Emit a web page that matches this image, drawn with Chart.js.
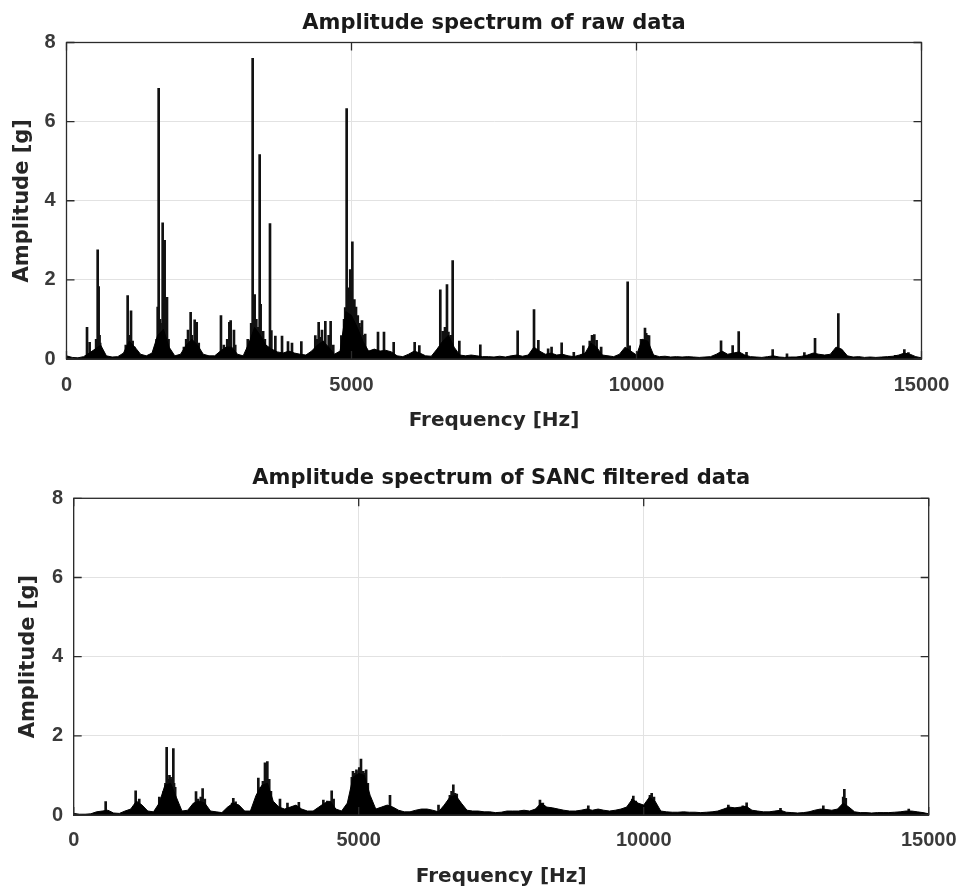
<!DOCTYPE html>
<html>
<head>
<meta charset="utf-8">
<script src="https://cdn.jsdelivr.net/npm/chart.js@4.4.1/dist/chart.umd.min.js"></script>
<style>
body { margin: 0; background: #fff; }
#wrap { position: relative; width: 957px; height: 894px; }
canvas { position: absolute; left: 0; }
</style>
</head>
<body>
<div id="wrap">
	<canvas id="rawChart" width="957" height="447" style="top:0"></canvas>
	<canvas id="sancChart" width="957" height="447" style="top:447px"></canvas>
</div>
<script>
var xTicks = [0, 5000, 10000, 15000];
var yTicks = [0, 2, 4, 6, 8];
var binHz = 100;

// dense part of the spectrum, one value per 100 Hz bin (0 .. 15000 Hz)
var rawFloor = [
	0.08, 0.04, 0.03, 0.06, 0.15, 0.25, 0.35, 0.08, 0.05, 0.06,
	0.15, 0.45, 0.30, 0.12, 0.08, 0.15, 0.60, 0.75, 0.30, 0.08,
	0.12, 0.35, 0.50, 0.35, 0.12, 0.08, 0.08, 0.20, 0.30, 0.30,
	0.12, 0.08, 0.40, 0.80, 0.60, 0.35, 0.25, 0.18, 0.15, 0.20,
	0.15, 0.12, 0.10, 0.20, 0.35, 0.45, 0.30, 0.12, 0.20, 1.20,
	1.10, 0.80, 0.45, 0.20, 0.25, 0.20, 0.22, 0.18, 0.08, 0.06,
	0.12, 0.20, 0.15, 0.08, 0.07, 0.25, 0.45, 0.60, 0.30, 0.10,
	0.08, 0.10, 0.08, 0.06, 0.06, 0.05, 0.07, 0.05, 0.08, 0.10,
	0.07, 0.10, 0.30, 0.20, 0.12, 0.15, 0.10, 0.12, 0.08, 0.06,
	0.10, 0.15, 0.40, 0.30, 0.10, 0.08, 0.06, 0.12, 0.30, 0.20,
	0.10, 0.50, 0.45, 0.10, 0.06, 0.07, 0.05, 0.06, 0.05, 0.06,
	0.05, 0.04, 0.05, 0.06, 0.12, 0.20, 0.12, 0.15, 0.18, 0.10,
	0.06, 0.05, 0.04, 0.06, 0.08, 0.05, 0.04, 0.05, 0.05, 0.07,
	0.10, 0.15, 0.12, 0.10, 0.12, 0.30, 0.25, 0.08, 0.05, 0.06,
	0.04, 0.05, 0.04, 0.05, 0.06, 0.07, 0.10, 0.15, 0.12, 0.06,
	0.03
];

// single spectral lines [Hz, g]
var rawPeaks = [
	[360, 0.80], [406, 0.42], [520, 0.50], [547, 2.76], [564, 1.83], [580, 0.60], [590, 0.40],
	[1040, 0.35], [1073, 1.60], [1100, 0.60], [1132, 1.22], [1160, 0.45], [1190, 0.30],
	[1580, 0.50], [1600, 1.31], [1617, 6.84], [1640, 1.00], [1650, 0.90], [1687, 3.44], [1700, 1.40],
	[1722, 3.00], [1740, 0.90], [1763, 1.56], [1790, 0.50],
	[2060, 0.30], [2100, 0.50], [2132, 0.73], [2178, 1.18], [2200, 0.60], [2249, 0.99], [2284, 0.93], [2320, 0.40],
	[2710, 1.10], [2760, 0.35], [2820, 0.50], [2857, 0.93], [2880, 0.97], [2938, 0.73], [2960, 0.35],
	[3180, 0.50], [3220, 0.45], [3240, 0.90], [3266, 7.60], [3301, 1.63], [3330, 1.00], [3360, 0.80],
	[3389, 5.17], [3406, 1.38], [3450, 0.70], [3480, 0.50],
	[3570, 3.42], [3594, 0.72], [3664, 0.58], [3781, 0.58], [3886, 0.44], [3956, 0.40], [4120, 0.44],
	[4365, 0.59], [4400, 0.50], [4424, 0.93], [4460, 0.55], [4482, 0.73], [4520, 0.45], [4541, 0.95],
	[4600, 0.60], [4634, 0.95], [4680, 0.35], [4822, 0.59],
	[4870, 1.00], [4890, 1.30], [4915, 6.33], [4940, 1.80], [4950, 1.60], [4978, 2.26], [5000, 1.70],
	[5015, 2.96], [5050, 1.50], [5060, 1.20], [5079, 1.31], [5110, 1.10], [5140, 0.90], [5160, 0.80],
	[5184, 0.97], [5210, 0.60], [5240, 0.63], [5465, 0.68], [5570, 0.68], [5740, 0.42],
	[6108, 0.42], [6190, 0.34], [6558, 1.75], [6600, 0.70], [6640, 0.80], [6675, 1.88], [6700, 0.68],
	[6740, 0.60], [6775, 2.49], [6892, 0.45], [7260, 0.36],
	[7915, 0.71], [8202, 1.25], [8278, 0.47], [8450, 0.26], [8510, 0.30], [8687, 0.41], [8900, 0.17],
	[9067, 0.33], [9180, 0.45], [9220, 0.60], [9260, 0.62], [9300, 0.47], [9380, 0.30],
	[9845, 1.95], [9880, 0.33], [10080, 0.50], [10120, 0.43], [10149, 0.78], [10170, 0.65], [10190, 0.60], [10220, 0.59],
	[11483, 0.46], [11687, 0.34], [11793, 0.69], [11930, 0.17], [12389, 0.24], [12640, 0.13],
	[12945, 0.16], [13132, 0.52], [13510, 0.26], [13541, 1.15], [13600, 0.22],
	[14540, 0.09], [14699, 0.24], [14770, 0.16]
];

var sancFloor = [
	0.04, 0.02, 0.02, 0.03, 0.08, 0.10, 0.12, 0.05, 0.04, 0.10,
	0.15, 0.35, 0.25, 0.10, 0.08, 0.30, 0.75, 0.80, 0.45, 0.10,
	0.12, 0.30, 0.35, 0.30, 0.10, 0.08, 0.06, 0.20, 0.30, 0.25,
	0.10, 0.10, 0.50, 0.75, 0.80, 0.35, 0.20, 0.15, 0.20, 0.25,
	0.15, 0.10, 0.10, 0.20, 0.30, 0.35, 0.15, 0.10, 0.30, 0.95,
	1.05, 1.00, 0.50, 0.15, 0.20, 0.25, 0.20, 0.12, 0.08, 0.08,
	0.12, 0.15, 0.15, 0.12, 0.08, 0.25, 0.45, 0.50, 0.30, 0.12,
	0.10, 0.10, 0.08, 0.08, 0.06, 0.07, 0.10, 0.10, 0.10, 0.12,
	0.10, 0.15, 0.30, 0.20, 0.18, 0.15, 0.12, 0.10, 0.10, 0.12,
	0.15, 0.12, 0.15, 0.12, 0.10, 0.12, 0.15, 0.20, 0.40, 0.30,
	0.25, 0.45, 0.35, 0.10, 0.08, 0.07, 0.07, 0.08, 0.07, 0.07,
	0.06, 0.07, 0.08, 0.10, 0.15, 0.20, 0.18, 0.20, 0.22, 0.12,
	0.10, 0.08, 0.08, 0.10, 0.12, 0.07, 0.06, 0.05, 0.06, 0.08,
	0.12, 0.15, 0.14, 0.12, 0.15, 0.30, 0.20, 0.08, 0.06, 0.06,
	0.05, 0.06, 0.06, 0.06, 0.07, 0.08, 0.10, 0.10, 0.08, 0.06,
	0.03
];

var sancPeaks = [
	[561, 0.34], [1087, 0.61], [1150, 0.40], [1502, 0.45],
	[1580, 0.60], [1610, 0.80], [1631, 1.71], [1660, 0.90], [1680, 1.00], [1700, 0.95], [1720, 0.90],
	[1748, 1.68], [1760, 0.80], [1780, 0.70],
	[2146, 0.59], [2180, 0.40], [2230, 0.45], [2262, 0.67], [2300, 0.40],
	[2780, 0.30], [2800, 0.42], [2840, 0.33],
	[3239, 0.93], [3280, 0.70], [3320, 0.85], [3356, 1.32], [3370, 1.00], [3397, 1.35], [3430, 0.90],
	[3460, 0.60], [3619, 0.40], [3750, 0.30], [3950, 0.32],
	[4380, 0.38], [4450, 0.35], [4526, 0.61], [4560, 0.40],
	[4880, 0.95], [4900, 1.10], [4930, 1.05], [4960, 1.14], [5000, 1.10], [5010, 1.20], [5040, 1.41],
	[5080, 1.10], [5100, 1.05], [5130, 1.14], [5160, 0.80], [5549, 0.50],
	[6400, 0.25], [6600, 0.50], [6630, 0.60], [6660, 0.76], [6690, 0.55], [6720, 0.53],
	[8180, 0.38], [8230, 0.30], [9028, 0.23], [9800, 0.40], [9818, 0.48], [9860, 0.35],
	[10110, 0.50], [10140, 0.55], [10180, 0.45],
	[11485, 0.25], [11740, 0.23], [11806, 0.31], [12400, 0.17], [13151, 0.23],
	[13500, 0.45], [13520, 0.65], [13545, 0.42], [14650, 0.15]
];

var plotTitle = {
	id: 'plotTitle',
	afterDraw: function(chart, args, opts) {
		var ctx = chart.ctx;
		var a = chart.chartArea;
		ctx.save();
		ctx.font = 'bold 21px "DejaVu Sans"';
		ctx.fillStyle = '#1a1a1a';
		ctx.textAlign = 'center';
		ctx.textBaseline = 'alphabetic';
		ctx.fillText(opts.text, (a.left + a.right) / 2, a.top - 14);
		ctx.restore();
	}
};

// matlab style box with inward ticks
var boxFrame = {
	id: 'boxFrame',
	afterDatasetsDraw: function(chart) {
		var ctx = chart.ctx;
		var a = chart.chartArea;
		var sx = chart.scales.x;
		var sy = chart.scales.y;
		ctx.save();
		ctx.strokeStyle = '#2b2b2b';
		ctx.lineWidth = 1.3;
		ctx.strokeRect(a.left, a.top, a.right - a.left, a.bottom - a.top);
		ctx.beginPath();
		for( var i=0; i<xTicks.length; i++ )
		{
			var px = sx.getPixelForValue(xTicks[i]);
			ctx.moveTo(px, a.bottom); ctx.lineTo(px, a.bottom - 8);
			ctx.moveTo(px, a.top); ctx.lineTo(px, a.top + 8);
		}
		for( var j=0; j<yTicks.length; j++ )
		{
			var py = sy.getPixelForValue(yTicks[j]);
			ctx.moveTo(a.left, py); ctx.lineTo(a.left + 8, py);
			ctx.moveTo(a.right, py); ctx.lineTo(a.right - 8, py);
		}
		ctx.stroke();
		ctx.restore();
	}
};

function floorPoints( floor )
{
	var pts = [];
	for( var i=0; i<floor.length; i++ )
		pts.push({ x: i * binHz, y: floor[i] });
	return pts;
}

function peakPoints( peaks )
{
	var pts = [];
	for( var i=0; i<peaks.length; i++ )
		pts.push({ x: peaks[i][0], y: peaks[i][1] });
	return pts;
}

function startChart( id, title, floor, peaks, geo )
{
	var tickFont = { family: '"Liberation Sans", Arial, sans-serif', size: 20, weight: 'bold' };
	return new Chart(document.getElementById(id), {
		type: 'bar',
		data: {
			datasets: [
				{
					type: 'line',
					data: floorPoints(floor),
					borderColor: '#000',
					backgroundColor: '#000',
					borderWidth: 1,
					pointRadius: 0,
					tension: 0,
					fill: 'origin'
				},
				{
					type: 'bar',
					data: peakPoints(peaks),
					backgroundColor: '#111',
					barThickness: 2,
					grouped: false
				}
			]
		},
		options: {
			responsive: false,
			animation: false,
			layout: { padding: { top: geo.top, right: geo.right, left: 0, bottom: 0 } },
			plugins: {
				legend: { display: false },
				tooltip: { enabled: false },
				plotTitle: { text: title }
			},
			scales: {
				x: {
					type: 'linear',
					min: 0,
					max: 15000,
					offset: false,
					afterBuildTicks: function(s) { s.ticks = xTicks.map(function(v){ return { value: v }; }); },
					afterFit: function(s) {
						s.height = geo.xHeight;
						s.paddingLeft = 0;
						s.paddingRight = 0;
					},
					ticks: {
						font: tickFont, color: '#3a3a3a', padding: geo.xPad, maxRotation: 0,
						callback: function(v) { return String(v); }
					},
					grid: { color: '#e2e2e2', drawTicks: false, offset: false },
					border: { color: '#2b2b2b' },
					title: {
						display: true,
						text: 'Frequency [Hz]',
						color: '#262626',
						font: { family: '"DejaVu Sans"', size: 20, weight: 'bold' },
						padding: { top: 0, bottom: geo.xTitlePad }
					}
				},
				y: {
					min: 0,
					max: 8,
					afterBuildTicks: function(s) { s.ticks = yTicks.map(function(v){ return { value: v }; }); },
					afterFit: function(s) {
						s.width = geo.left;
						s.paddingTop = 0;
						s.paddingBottom = 0;
					},
					ticks: {
						font: tickFont, color: '#3a3a3a', padding: geo.yPad,
						callback: function(v) { return String(v); }
					},
					grid: { color: '#e2e2e2', drawTicks: false },
					border: { color: '#2b2b2b' },
					title: {
						display: true,
						text: 'Amplitude [g]',
						color: '#262626',
						font: { family: '"DejaVu Sans"', size: 21, weight: 'bold' },
						padding: { top: geo.yTitlePad, bottom: 0 }
					}
				}
			}
		},
		plugins: [plotTitle, boxFrame]
	});
}

startChart('rawChart', 'Amplitude spectrum of raw data', rawFloor, rawPeaks,
	{ top: 42.5, right: 35.5, left: 66.5, xHeight: 88, xPad: 14.5, xTitlePad: 14.5, yPad: 11, yTitlePad: 10 });
startChart('sancChart', 'Amplitude spectrum of SANC filtered data', sancFloor, sancPeaks,
	{ top: 51.3, right: 28.3, left: 73.7, xHeight: 79, xPad: 13.5, xTitlePad: 5.5, yPad: 10.5, yTitlePad: 16.4 });
</script>
</body>
</html>
